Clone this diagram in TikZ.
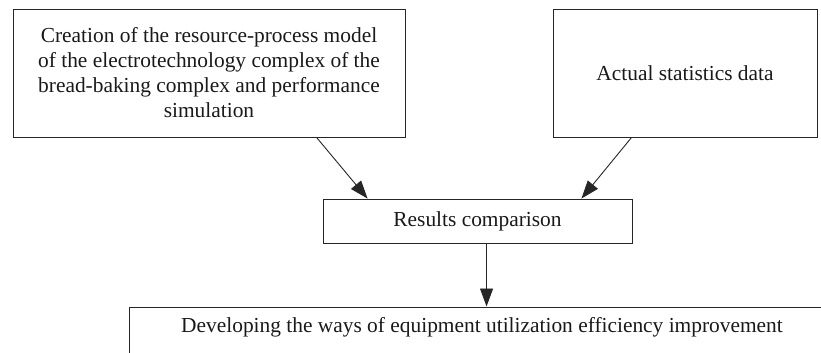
\documentclass[tikz,border=0pt]{standalone}
\usepackage{fontspec}
\setmainfont{Liberation Serif}
\usetikzlibrary{arrows.meta,calc}
\begin{document}
\begin{tikzpicture}[x=1pt,y=-1pt,
  box/.style={draw=black!85, line width=0.9pt, inner sep=0pt, align=center,
    text=black!90, font=\fontsize{21.4}{25}\selectfont},
  lbl/.style={inner sep=0pt, text=black!90, font=\fontsize{21.4}{25}\selectfont},
  arr/.style={draw=black!85, line width=0.9pt, -{Triangle[length=18pt,width=13pt]}}]
\useasboundingbox (0,0) rectangle (821,353);
\clip (0,0) rectangle (821,353);
\node[box, minimum width=392pt, minimum height=128pt] (model) at (209,73)
  {Creation of the resource-process model\\of the electrotechnology complex of the\\bread-baking complex and performance\\simulation};
\node[box, minimum width=264pt, minimum height=128pt] (stat) at (685,73)
  {Actual statistics data};
\node[box, minimum width=309pt, minimum height=44pt] (res) at (477.5,221)
  {Results comparison};
\node[box, minimum width=706pt, minimum height=90pt, anchor=north] (dev) at (482,306.5) {};
\node[lbl, anchor=base] (devtext) at (482,332)
  {Developing the ways of equipment utilization efficiency improvement};
\coordinate (aone) at ($(model.south west)+(304,0)$);
\coordinate (atwo) at ($(stat.south west)+(79,0)$);
\coordinate (athree) at ($(res.south west)+(164,0)$);
\draw[arr] (aone) -- ($(res.north west)+(45,0)$);
\draw[arr] (atwo) -- ($(res.north east)+(-51,0)$);
\draw[arr] (athree) -- (athree |- dev.north);
\end{tikzpicture}
\end{document}
